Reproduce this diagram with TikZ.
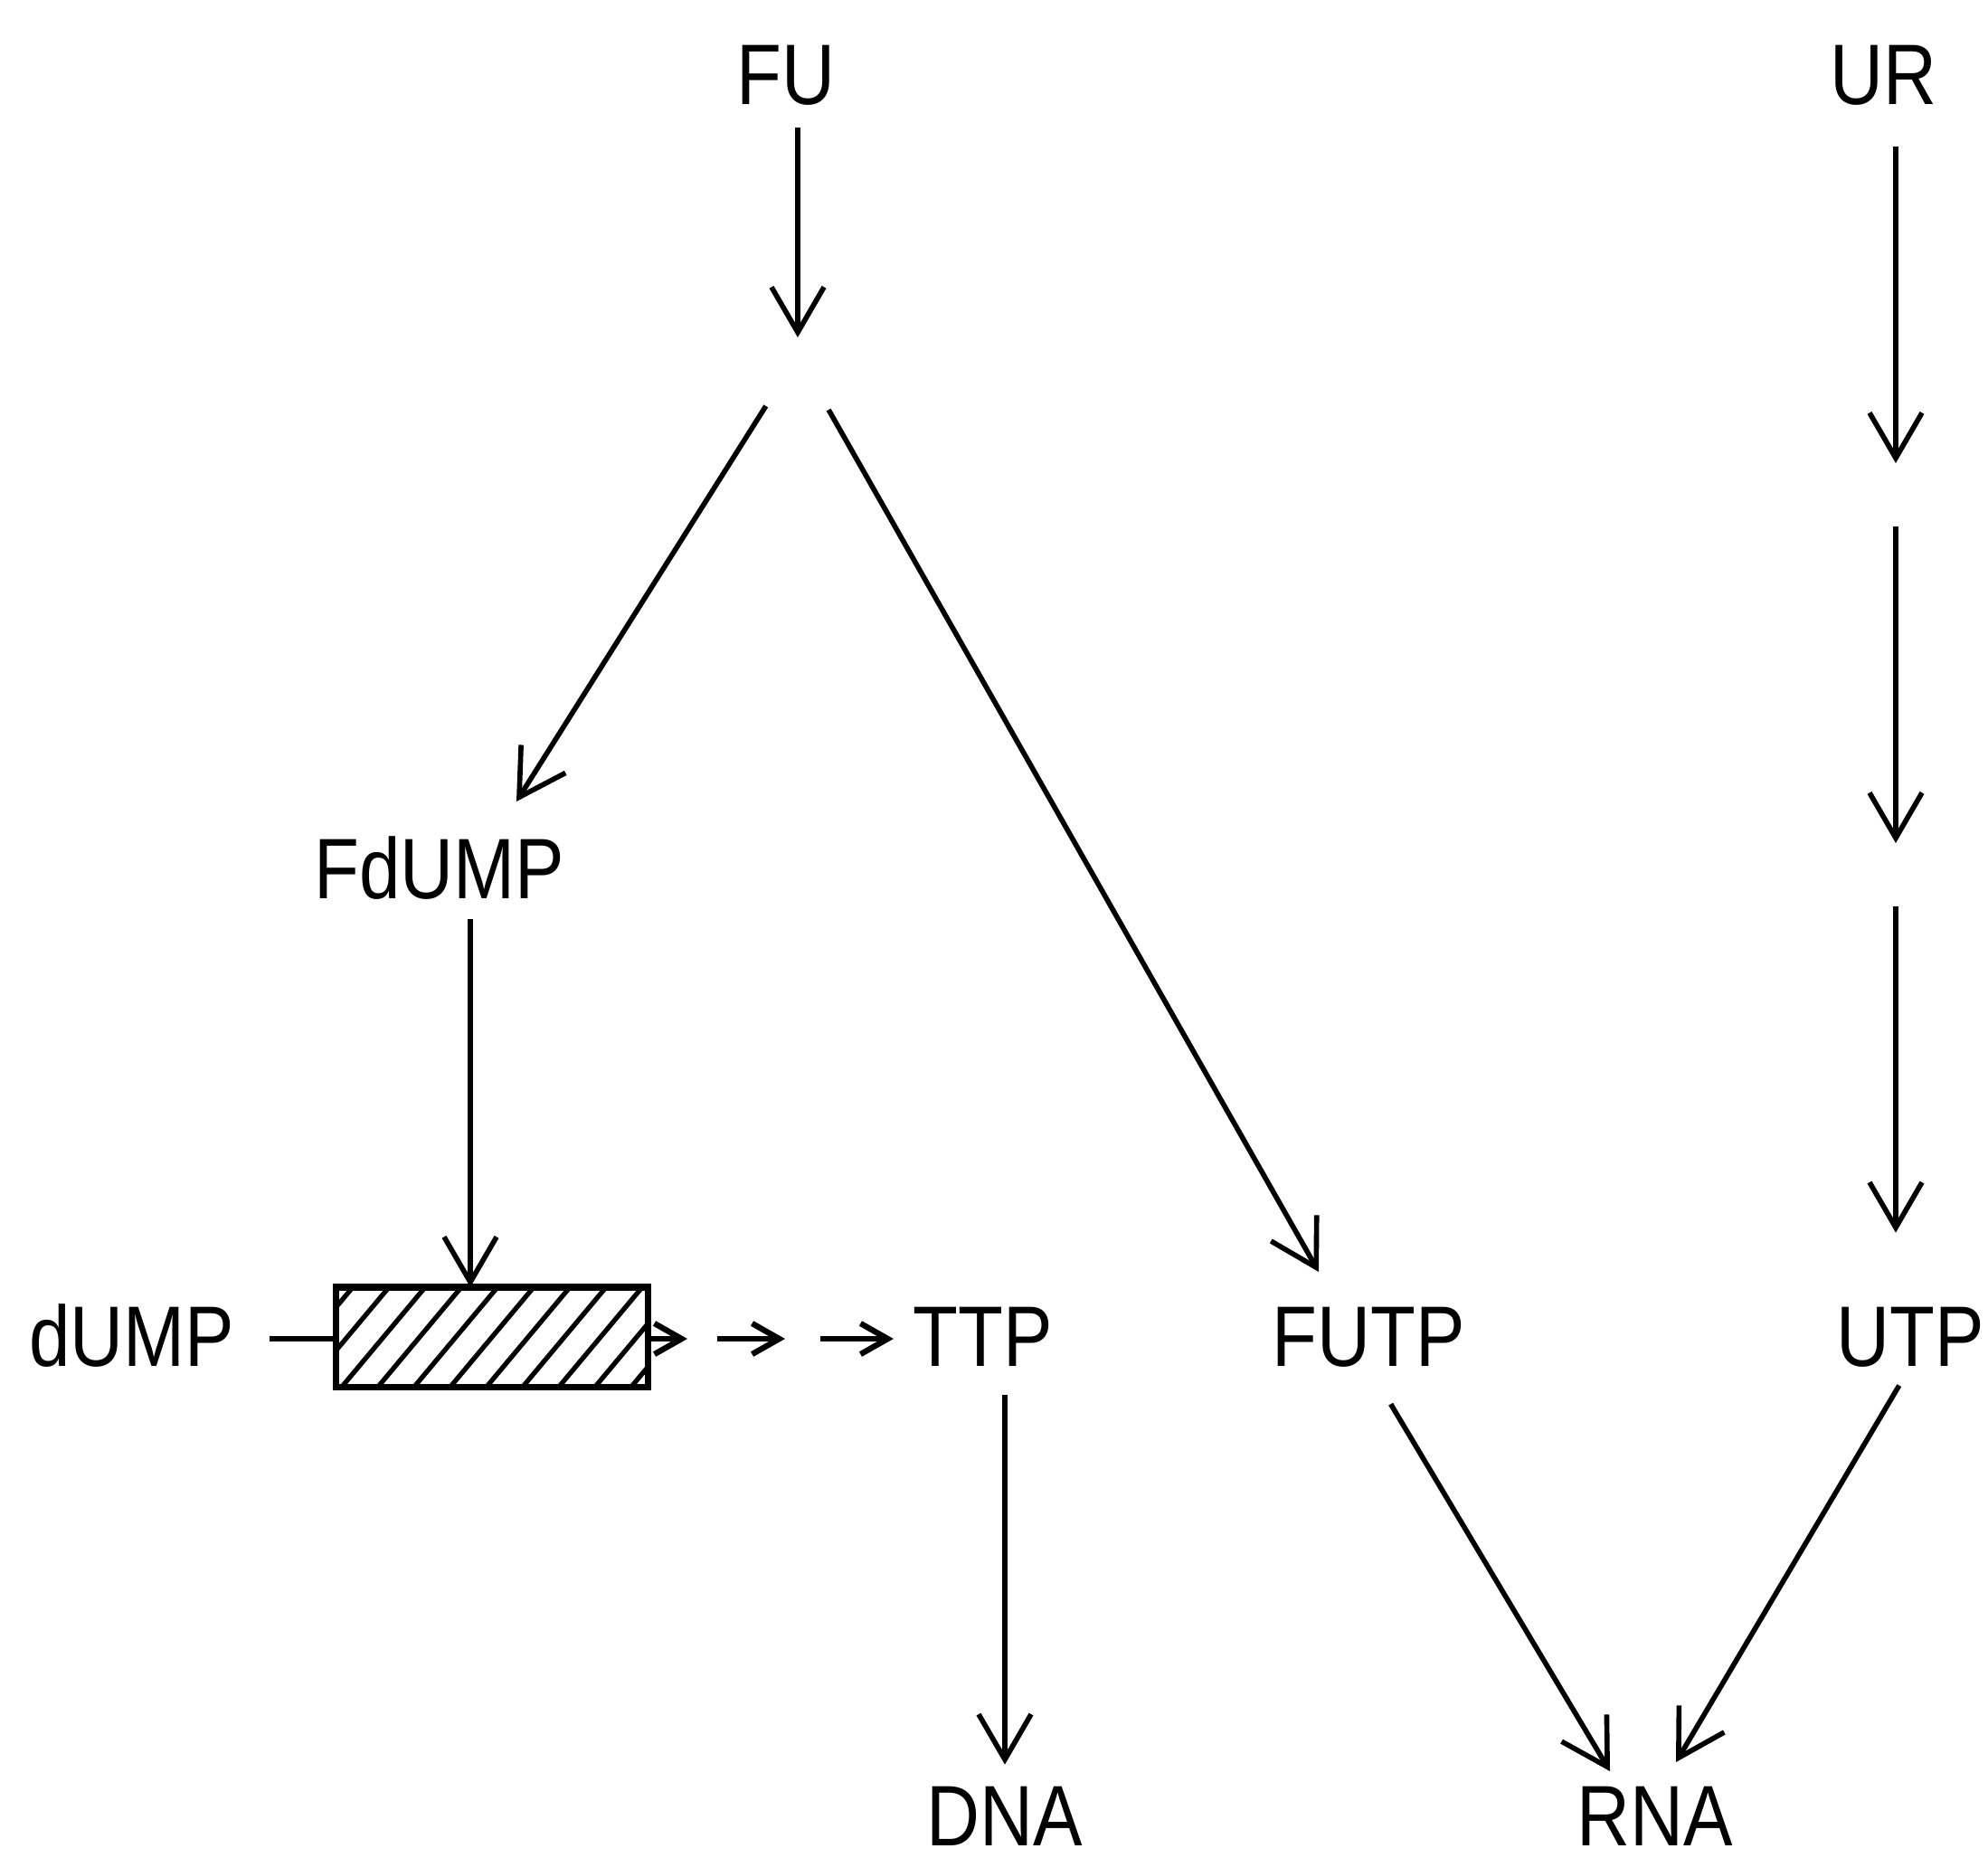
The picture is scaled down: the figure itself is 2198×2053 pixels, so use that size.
\documentclass[tikz,border=0pt]{standalone}
\usepackage{fontspec}
\setmainfont{Liberation Sans}[FakeStretch=0.86]
\usetikzlibrary{arrows.meta}
\begin{document}
\begin{tikzpicture}[x=0.01cm,y=-0.01cm,
  lbl/.style={inner sep=0pt, outer sep=0pt, anchor=base, font=\fontsize{27}{30}\selectfont},
  arr/.style={line width=1.6pt, -{Straight Barb[length=5mm,width=5.8mm]}},
  sarr/.style={line width=1.8pt, -{Straight Barb[length=3mm,width=3.4mm]}},
  ln/.style={line width=1.6pt},
  enzbox/.style={draw, line width=2pt, inner sep=0pt, outer sep=0pt, minimum width=3.44cm, minimum height=1.1cm},
  hatch/.style={line width=1.5pt}
]
\useasboundingbox (0,0) rectangle (2198,2053);

% labels
\node[lbl] (FU)    at (869,115)  {FU};
\node[lbl] (UR)    at (2082,115) {UR};
\node[lbl] (FdUMP) at (486,993)  {FdUMP};
\node[lbl] (dUMP)  at (146,1510) {dUMP};
\node[lbl] (TTP)   at (1087,1510) {TTP};
\node[lbl] (FUTP)  at (1513,1510) {FUTP};
\node[lbl] (UTP)   at (2112,1510) {UTP};
\node[lbl] (DNA)   at (1111,2040) {DNA};
\node[lbl] (RNA)   at (1830,2040) {RNA};

% enzyme box (hatched)
\node[enzbox] (enz) at (544,1478) {};
\begin{scope}
  \clip (enz.south west) rectangle (enz.north east);
  \foreach \t in {390,430,...,790}
    \draw[hatch] (\t,1423) -- ({\t-92},1533);
\end{scope}
\node[enzbox] at (enz) {};

% helper points
\coordinate (fuj) at (882,393);
\coordinate (fdin) at (571,886);
\coordinate (futpin) at (1458,1406);
\coordinate (fdx) at (520,1000);
\coordinate (p1) at (760,1480);
\coordinate (p2) at (868,1480);
\coordinate (rnal) at (1780,1958);
\coordinate (rnar) at (1853,1948);
\coordinate (ur1) at (2096,547);
\coordinate (ur2) at (2096,967);

% FU branch
\draw[arr, shorten <=2.5mm, shorten >=2mm] (FU.south -| fuj) -- (fuj);
\draw[arr, shorten <=6.6mm] (fuj) -- (fdin);
\draw[arr, shorten <=6.9mm] (fuj) -- (futpin);
\draw[arr, shorten <=2.2mm] (FdUMP.south -| fdx) -- (enz.north -| fdx);

% dUMP -> TTP
\draw[ln, shorten <=3.9mm] (dUMP.east |- p1) -- (enz.west |- p1);
\draw[sarr] (enz.east |- p1) -- (p1);
\draw[sarr, shorten <=3.3mm] (p1) -- (p2);
\draw[sarr, shorten <=3.9mm, shorten >=2.2mm] (p2) -- (TTP.west |- p2);

% to DNA / RNA
\draw[arr, shorten <=3.2mm, shorten >=2.4mm] (TTP.south -| DNA) -- (DNA.north);
\draw[arr, shorten <=4.8mm] (FUTP.south) -- (rnal);
\draw[arr, shorten <=2.4mm] (UTP.south) -- (rnar);

% UR chain
\draw[arr, shorten <=4.6mm, shorten >=3.5mm] (UR.south -| ur1) -- (ur1);
\draw[arr, shorten <=3.5mm, shorten >=3.5mm] (ur1) -- (ur2);
\draw[arr, shorten <=3.5mm, shorten >=8.2mm] (ur2) -- (UTP.north -| ur2);
\end{tikzpicture}
\end{document}
